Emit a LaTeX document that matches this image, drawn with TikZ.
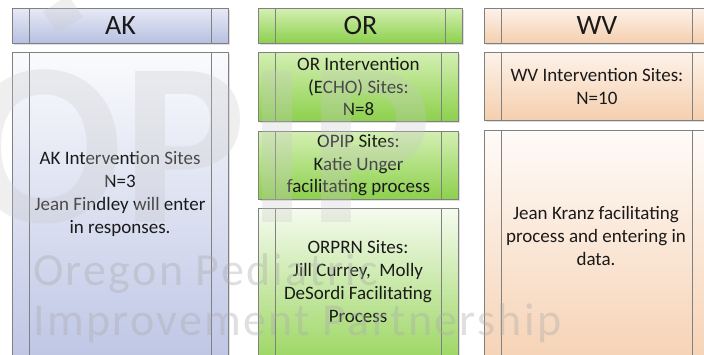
\documentclass[tikz,border=0pt]{standalone}
\usepackage{fontspec}
\setmainfont{Carlito}
\newfontfamily\wmfont[LetterSpace=5]{Carlito}
\usetikzlibrary{shadows}
\definecolor{edge}{HTML}{808080}
\definecolor{txt}{HTML}{1A1A1A}
\definecolor{akHT}{HTML}{E6E9F5}\definecolor{akHB}{HTML}{B7C0E1}
\definecolor{akBT}{HTML}{FAFBFD}\definecolor{akBB}{HTML}{BCC4E4}
\definecolor{orHT}{HTML}{D3EFB2}\definecolor{orHB}{HTML}{8CD04C}
\definecolor{orBT}{HTML}{F5FBEF}\definecolor{orBB}{HTML}{92D252}
\definecolor{wvHT}{HTML}{FDF2E9}\definecolor{wvHB}{HTML}{F5CFAE}
\definecolor{wvBT}{HTML}{FFFBF8}\definecolor{wvBB}{HTML}{F5CFAF}
\definecolor{wmbig}{HTML}{C8C8C8}
\definecolor{wmtxt}{HTML}{ABABAB}
\begin{document}
\begin{tikzpicture}[x=1pt,y=-1pt,
  proc/.style={rectangle, draw=edge, line width=0.9pt, inner sep=0pt,
    anchor=north west, align=center, text=txt,
    font=\fontsize{19}{22.5}\selectfont,
    path picture={\draw[edge, line width=0.9pt]
      ([xshift=17pt]path picture bounding box.north west) -- ([xshift=17pt]path picture bounding box.south west)
      ([xshift=-17pt]path picture bounding box.north east) -- ([xshift=-17pt]path picture bounding box.south east);},
    general shadow={fill=black, opacity=0.13, shadow xshift=1.5pt, shadow yshift=-1.8pt}},
  head/.style={proc, font=\fontsize{28}{32}\selectfont},
  body/.style={align=center, text=txt, font=\fontsize{19}{23}\selectfont, inner sep=0pt},
  wm/.style={text=wmtxt, text opacity=0.38, font=\wmfont\fontsize{46}{50}\selectfont, inner sep=0pt, anchor=base west}
]
\useasboundingbox (0,0) rectangle (704,354);
\clip (0,0) rectangle (704,354);
\fill[white] (0,0) rectangle (704,354);
% AK
\node[head, top color=akHT, bottom color=akHB, minimum width=216pt, minimum height=35pt] (akh) at (12,8) {AK};
\node[proc, top color=akBT, bottom color=akBB, minimum width=216pt, minimum height=320pt] (akb) at (12,52) {};
\node[body] (akt) at (120,194) {AK Intervention Sites\\N=3\\Jean Findley will enter\\in responses.};
% OR
\node[head, top color=orHT, bottom color=orHB, minimum width=204pt, minimum height=35pt] (orh) at (258,8) {OR};
\node[proc, top color=orHT, bottom color=orHB, minimum width=200pt, minimum height=69pt] (or1) at (258,52) {OR Intervention\\(ECHO) Sites:\\N=8};
\node[proc, top color=orHT, bottom color=orHB, minimum width=200pt, minimum height=68pt] (or2) at (258,131) {OPIP Sites:\\Katie Unger\\facilitating process};
\node[proc, top color=orBT, bottom color=orBB, minimum width=200pt, minimum height=170pt] (or3) at (258,208) {};
\node[body] (or3t) at (358,282) {ORPRN Sites:\\Jill Currey,\ \ Molly\\DeSordi Facilitating\\Process};
% WV
\node[head, top color=wvHT, bottom color=wvHB, minimum width=225pt, minimum height=35pt] (wvh) at (484,8) {WV};
\node[proc, top color=wvHT, bottom color=wvHB, minimum width=225pt, minimum height=68pt] (wv1) at (484,52) {WV Intervention Sites:\\N=10};
\node[proc, top color=wvBT, bottom color=wvBB, minimum width=225pt, minimum height=250pt] (wvb) at (484,130) {};
\node[body] (wvt) at (596,236) {Jean Kranz facilitating\\process and entering in\\data.};
% watermark
\node[text=wmbig, text opacity=0.28, font=\fontsize{233}{240}\selectfont\bfseries, inner sep=0pt, anchor=base west] (wmbigtxt) at (-35,222) {OPIP};
\fill[wmbig, opacity=0.28] (43,12) -- (58,33) -- (83,17) -- (68,-5) -- cycle;
\node[wm] (wm1) at (33,285) {Oregon Pediatric};
\node[wm] (wm2) at (33,335) {Improvement Partnership};
\end{tikzpicture}
\end{document}
